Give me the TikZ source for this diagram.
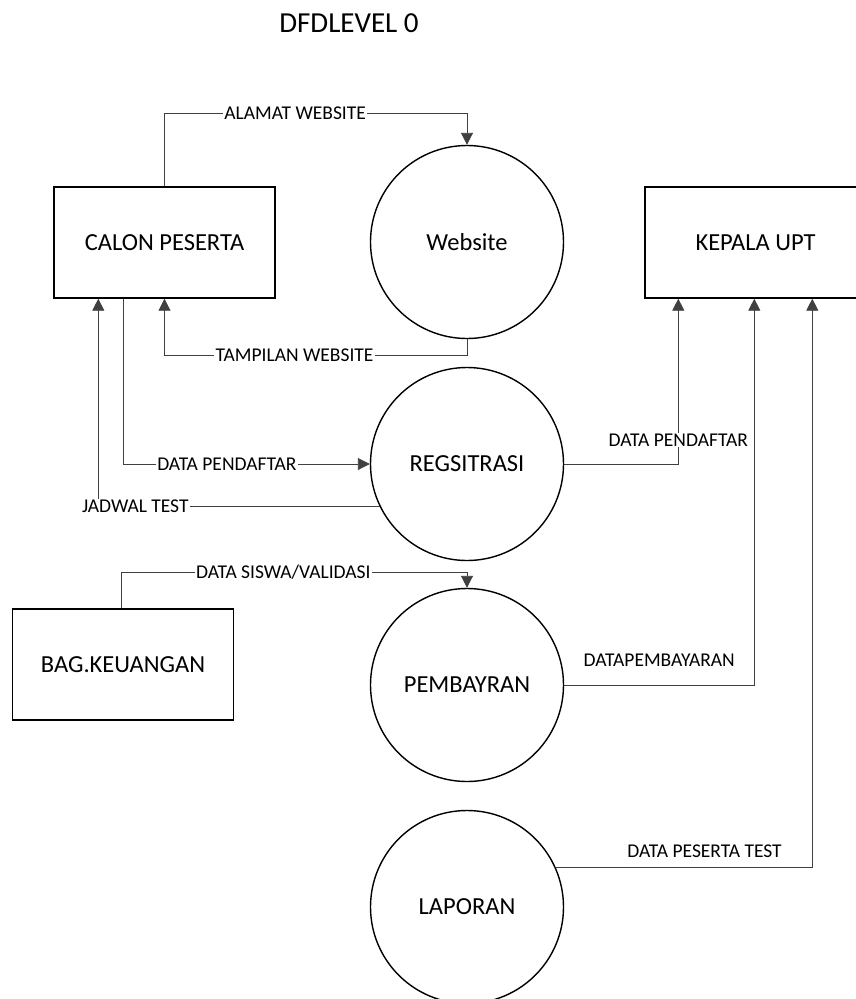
\documentclass[tikz,border=0pt]{standalone}
\usepackage{fontspec}
\setmainfont{Carlito}
\usetikzlibrary{arrows.meta,calc}
\begin{document}
\begin{tikzpicture}[x=1pt,y=-1pt,
  entity/.style={draw=black,line width=1.4pt,minimum width=221pt,minimum height=111pt,
    inner sep=0pt,font=\fontsize{24.5}{29}\selectfont},
  process/.style={draw=black,line width=1.4pt,circle,minimum size=193pt,inner sep=0pt,
    font=\fontsize{24.5}{29}\selectfont},
  flow/.style={draw=black!75,line width=0.9pt,-{Triangle[length=12pt,width=12pt]}},
  lab/.style={fill=white,inner xsep=1.5pt,inner ysep=1pt,font=\fontsize{19.5}{23}\selectfont},
  plainlab/.style={inner sep=0pt,font=\fontsize{19.5}{23}\selectfont}
]
\useasboundingbox (0,0) rectangle (856,999);

% title
\node[font=\fontsize{29}{34}\selectfont] (title) at (349,23) {DFDLEVEL 0};

% external entities
\node[entity] (calon)  at (164.5,242.5) {CALON PESERTA};
\node[entity] (kepala) at (755.5,242.5) {KEPALA UPT};
\node[entity] (bag)    at (123,664.5)   {BAG.KEUANGAN};

% processes
\node[process] (web) at (467,242) {Website};
\node[process] (reg) at (467,464) {REGSITRASI};
\node[process] (pem) at (467,685) {PEMBAYRAN};
\node[process] (lap) at (467,907) {LAPORAN};

% data flows
\draw[flow] (calon.north) -- ++(0,-73)
  -| node[lab,pos=0.216] {ALAMAT WEBSITE} (web.north);
\draw[flow] (web.south) -- ++(0,16)
  -| node[lab,pos=0.285] {TAMPILAN WEBSITE} (calon.south);
\draw[flow] ($(calon.south west)+(70,0)$)
  |- node[lab,pos=0.71] {DATA PENDAFTAR} (reg.west);
\draw[flow] (reg.206)
  -| node[lab,pos=0.5,xshift=37pt] {JADWAL TEST} ($(calon.south west)+(45,0)$);
\draw[flow] (reg.east)
  -| node[lab,pos=0.572] {DATA PENDAFTAR} ($(kepala.south west)+(34,0)$);
\draw[flow] ($(bag.north west)+(110,0)$) -- ++(0,-36)
  -| node[lab,pos=0.234] {DATA SISWA/VALIDASI} (pem.north);
\draw[flow] (pem.east)
  -| node[plainlab,pos=0.25,yshift=25pt] {DATAPEMBAYARAN} ($(kepala.south west)+(110,0)$);
\draw[flow] (lap.24)
  -| node[plainlab,pos=0.29,yshift=16pt] {DATA PESERTA TEST} ($(kepala.south west)+(168,0)$);
\end{tikzpicture}
\end{document}
